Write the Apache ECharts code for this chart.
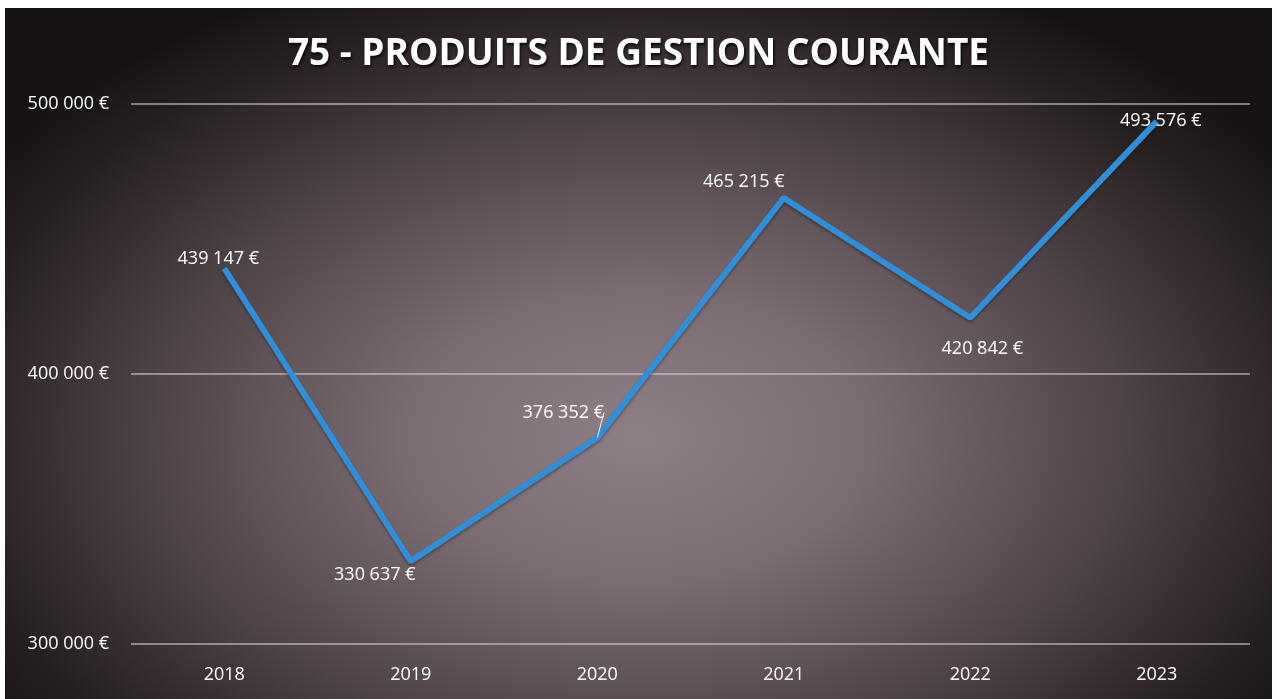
<!DOCTYPE html>
<html>
<head>
<meta charset="utf-8">
<script src="https://cdn.jsdelivr.net/npm/echarts@6/dist/echarts.min.js"></script>
<style>
  html, body { margin: 0; padding: 0; background: #ffffff; }
  #chart {
    position: absolute; left: 5px; top: 8px; width: 1267px; height: 691px;
    background: radial-gradient(ellipse 62% 72% at 50% 62%, #8d7f85 0%, #7a6c71 30%, #4e4346 62%, #261f20 88%, #171313 100%);
  }
</style>
</head>
<body>
<div id="chart"></div>
<script>
// Annual "75 - Produits de gestion courante" revenue, in euros
const years = ['2018', '2019', '2020', '2021', '2022', '2023'];
const amounts = [439147, 330637, 376352, 465215, 420842, 493576];
// Where each value label sits relative to its point
const labelSpots = ['top', 'bottom', 'top', 'top', 'bottom', 'inside'];
// Nudges (dx, dy) applied to each value label after placement
const labelNudges = [[-6, 4], [-36, 0], [-34, -12], [-40, -3], [12, 18], [4, 0]];

function euro(v) {
  return String(Math.round(v)).replace(/\B(?=(\d{3})+(?!\d))/g, ' ') + ' €';
}

const fontFamily = '"Open Sans", "Noto Sans", sans-serif';

const points = amounts.map((v, i) => {
  const item = { value: v, label: { position: labelSpots[i] } };
  if (i === 2) {
    item.labelLine = { show: true, lineStyle: { color: '#ffffff', width: 1, opacity: 0.9 } };
  }
  return item;
});

const chart = echarts.init(document.getElementById('chart'));
chart.setOption({
  backgroundColor: 'transparent',
  title: {
    text: '75 - PRODUITS DE GESTION COURANTE',
    left: 'center',
    top: 23,
    textStyle: {
      color: '#ffffff',
      fontFamily: fontFamily,
      fontWeight: 'bold',
      fontSize: 37,
      textShadowColor: 'rgba(0,0,0,0.85)',
      textShadowBlur: 3,
      textShadowOffsetX: 1,
      textShadowOffsetY: 2
    }
  },
  grid: { left: 126, right: 22, top: 96, bottom: 55 },
  xAxis: {
    type: 'category',
    data: years,
    boundaryGap: true,
    axisLine: { show: false },
    axisTick: { show: false },
    axisLabel: { color: '#ffffff', fontFamily: fontFamily, fontSize: 18, margin: 22 }
  },
  yAxis: {
    type: 'value',
    min: 300000,
    max: 500000,
    interval: 100000,
    axisLabel: {
      color: '#ffffff', fontFamily: fontFamily, fontSize: 18, margin: 22,
      formatter: euro
    },
    splitLine: { lineStyle: { color: 'rgba(215,205,215,0.75)', width: 1.5 } }
  },
  series: [{
    type: 'line',
    data: points,
    symbol: 'circle',
    symbolSize: 0.5,
    showSymbol: true,
    itemStyle: { color: 'rgba(0,0,0,0)', borderWidth: 0 },
    lineStyle: {
      color: '#2f8fd8', width: 6,
      shadowColor: 'rgba(0,0,0,0.35)', shadowBlur: 3, shadowOffsetY: 2
    },
    label: {
      show: true,
      color: '#ffffff',
      fontFamily: fontFamily,
      fontSize: 18,
      distance: 4,
      formatter: p => euro(p.value)
    },
    labelLayout: p => ({ dx: labelNudges[p.dataIndex][0], dy: labelNudges[p.dataIndex][1] }),
    labelLine: { show: false },
    z: 3
  }]
});
</script>
</body>
</html>
